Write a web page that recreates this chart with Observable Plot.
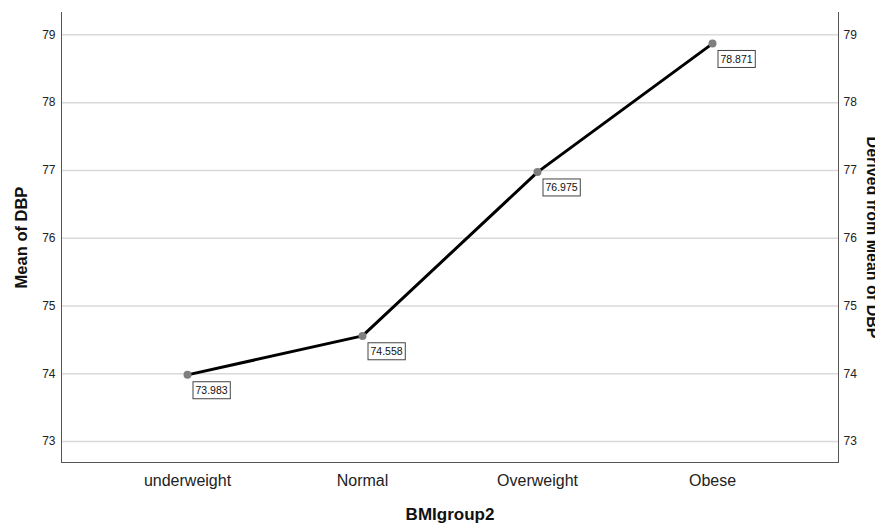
<!DOCTYPE html>
<html><head><meta charset="utf-8">
<script src="https://cdn.jsdelivr.net/npm/d3@7"></script>
<script src="https://cdn.jsdelivr.net/npm/@observablehq/plot@0.6"></script>
<style>
html,body{margin:0;padding:0;background:#fff;}
svg{font-family:"Liberation Sans",Arial,sans-serif;}
</style>
</head><body>
<div id="chart"></div>
<script>
const categories = ["underweight", "Normal", "Overweight", "Obese"];
const meanDBP = [73.983, 74.558, 76.975, 78.871];
const yTicks = [73, 74, 75, 76, 77, 78, 79];
const rightTitle = ["Derived from Mean of DBP"];

const data = categories.map((c, i) => ({group: c, value: meanDBP[i]}));
const yDomain = [72.69, 79.33];

const chart = Plot.plot({
  width: 875,
  height: 525,
  marginLeft: 61,
  marginRight: 37,
  marginTop: 12,
  marginBottom: 63,
  style: {fontFamily: "'Liberation Sans', Arial, sans-serif", background: "#fff", overflow: "hidden"},
  x: {type: "point", domain: categories, padding: 0.72, label: null},
  y: {domain: yDomain, label: null},
  marks: [
    Plot.ruleY(yTicks, {stroke: "#d9d9d9", strokeWidth: 1.5}),
    Plot.axisY(yTicks, {anchor: "left", tickSize: 0, tickPadding: 6, fontSize: 12, color: "#222",
      tickFormat: d => String(d),
      label: "Mean of DBP", labelAnchor: "center", labelOffset: 46, labelArrow: false}),
    Plot.axisY(yTicks, {anchor: "right", tickSize: 0, tickPadding: 5, fontSize: 12, color: "#222",
      tickFormat: d => String(d), label: null}),
    Plot.text(rightTitle, {frameAnchor: "right", textAnchor: "middle", text: d => d, rotate: 90, dx: 34, fontSize: 16,
      fontWeight: "bold", fill: "#111"}),
    Plot.axisX({anchor: "bottom", tickSize: 0, tickPadding: 12, fontSize: 16, color: "#222",
      label: "BMIgroup2", labelAnchor: "center", labelOffset: 57, labelArrow: false}),
    Plot.frame({anchor: "left", stroke: "#555"}),
    Plot.frame({anchor: "right", stroke: "#555"}),
    Plot.frame({anchor: "bottom", stroke: "#555"}),
    Plot.line(data, {x: "group", y: "value", stroke: "#000", strokeWidth: 3}),
    Plot.dot(data, {x: "group", y: "value", r: 4, fill: "#7f7f7f", stroke: "none"}),
    Plot.text(data, {x: "group", y: "value", text: d => d.value.toFixed(3), textAnchor: "start",
      dx: 8, dy: 16, fontSize: 10.5, fill: "#111", className: "vlabel"})
  ]
});
document.getElementById("chart").appendChild(chart);

// label boxes behind value labels
const svg = d3.select(chart);
svg.selectAll("g.vlabel text").each(function() {
  const b = this.getBBox();
  const t = this.getAttribute("transform");
  const r = document.createElementNS("http://www.w3.org/2000/svg", "rect");
  r.setAttribute("x", b.x - 2.5);
  r.setAttribute("y", b.y - 2.5);
  r.setAttribute("width", b.width + 5);
  r.setAttribute("height", b.height + 5);
  r.setAttribute("fill", "#fff");
  r.setAttribute("stroke", "#444");
  r.setAttribute("stroke-width", "1");
  if (t) r.setAttribute("transform", t);
  this.parentNode.insertBefore(r, this);
});
// bold axis titles
svg.selectAll("[aria-label='y-axis label']").attr("font-weight", "bold").attr("font-size", 16.5).attr("fill", "#111");
svg.selectAll("[aria-label='x-axis label']").attr("font-weight", "bold").attr("font-size", 17).attr("fill", "#111");
</script>
</body></html>
